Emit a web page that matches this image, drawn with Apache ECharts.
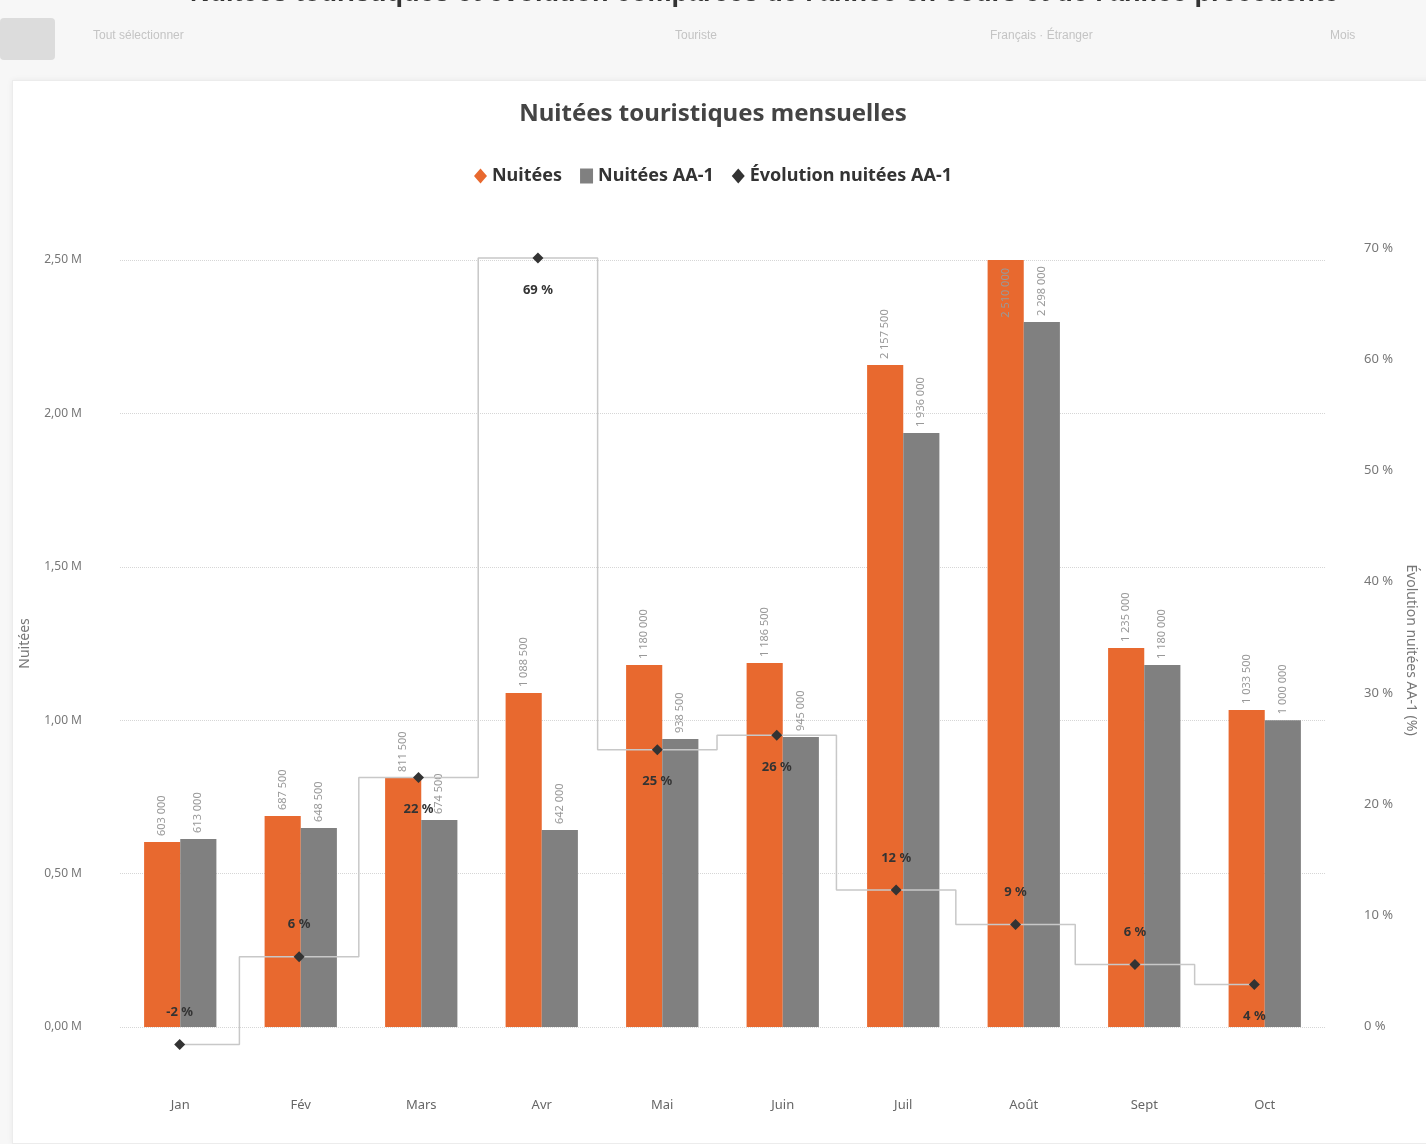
<!DOCTYPE html>
<html>
<head>
<meta charset="utf-8">
<script src="https://cdn.jsdelivr.net/npm/echarts@6/dist/echarts.min.js"></script>
<style>
html,body{margin:0;padding:0;background:#f7f7f7;width:1426px;height:1144px;overflow:hidden;font-family:"Noto Sans",sans-serif;}
#card{position:absolute;left:12px;top:80px;width:1430px;height:1062px;background:#fff;border:1px solid #ececec;box-shadow:0 0 6px rgba(0,0,0,0.06);}
#chart{position:absolute;left:0;top:0;width:1426px;height:1144px;}
</style>
</head>
<body>
<div id="card"></div>
<div id="chart"></div>
<script>
// ---- data ----
const months = ["Jan", "Fév", "Mars", "Avr", "Mai", "Juin", "Juil", "Août", "Sept", "Oct"];
const nuitees = [603000, 687500, 811500, 1088500, 1180000, 1186500, 2157500, 2510000, 1235000, 1033500];
const nuiteesAA1 = [613000, 648500, 674500, 642000, 938500, 945000, 1936000, 2298000, 1180000, 1000000];
const evolution = [-1.6, 6.3, 22.4, 69.1, 24.9, 26.2, 12.3, 9.2, 5.6, 3.8];
const leftTicks = { min: 0, max: 2500000, interval: 500000 };
const rightTicks = { min: -10, max: 70, interval: 10 };
// label placement style for the evolution line (top / bottom)
const evoLabelPos = ["top", "top", "bottom", "bottom", "bottom", "bottom", "top", "top", "top", "bottom"];

const ORANGE = "#E8692F";
const GREY = "#808080";

function fmtNum(v) {
  return String(Math.round(v)).replace(/\B(?=(\d{3})+(?!\d))/g, " ");
}
function barData(arr) {
  return arr.map(v => {
    if (v > leftTicks.max * 0.97) {
      return { value: v, label: { position: "insideTop", align: "right", distance: 8 } };
    }
    return v;
  });
}

const chart = echarts.init(document.getElementById("chart"), null, { renderer: "canvas" });
const gridL = 120, gridW = 1205, gridBottom = 117;

const option = {
  animation: false,
  textStyle: { fontFamily: "Noto Sans" },
  title: {
    text: "Nuitées touristiques mensuelles",
    left: "center",
    top: 97,
    textStyle: { fontSize: 24, fontWeight: "bold", color: "#444" }
  },
  legend: {
    top: 162,
    left: "center",
    itemGap: 18,
    itemWidth: 13,
    itemHeight: 15,
    textStyle: { fontSize: 18, fontWeight: "bold", color: "#333" },
    data: [
      { name: "Nuitées", icon: "diamond" },
      { name: "Nuitées AA-1", icon: "rect" },
      { name: "Évolution nuitées AA-1", icon: "diamond" }
    ]
  },
  graphic: [
    { type: "text", left: 190, top: -20, style: { text: "Nuitées touristiques et évolution comparées de l'année en cours et de l'année précédente", fontSize: 27, fontWeight: "bold", fill: "#333" } },
    { type: "rect", shape: { x: 0, y: 18, width: 55, height: 42, r: 4 }, style: { fill: "#dcdcdc" } },
    { type: "text", left: 93, top: 30, style: { text: "Tout sélectionner", fontSize: 12, fill: "#c4c4c4" } },
    { type: "text", left: 675, top: 30, style: { text: "Touriste", fontSize: 12, fill: "#c4c4c4" } },
    { type: "text", left: 990, top: 30, style: { text: "Français · Étranger", fontSize: 12, fill: "#c4c4c4" } },
    { type: "text", left: 1330, top: 30, style: { text: "Mois", fontSize: 12, fill: "#c4c4c4" } }
  ],
  grid: [
    { left: gridL, width: gridW, top: 260, bottom: gridBottom },
    { left: gridL, width: gridW, top: 248, bottom: 6 }
  ],
  xAxis: [
    {
      type: "category", gridIndex: 0, data: months,
      axisLine: { show: false }, axisTick: { show: false },
      axisLabel: { margin: 72, fontSize: 13, color: "#666" }
    },
    { type: "category", gridIndex: 1, data: months, show: false }
  ],
  yAxis: [
    {
      type: "value", gridIndex: 0, min: leftTicks.min, max: leftTicks.max, interval: leftTicks.interval,
      name: "Nuitées", nameLocation: "middle", nameGap: 88,
      nameTextStyle: { fontSize: 14, color: "#777" },
      axisLine: { show: false }, axisTick: { show: false },
      axisLabel: { margin: 38, fontSize: 12, color: "#777",
        formatter: v => (v / 1e6).toFixed(2).replace(".", ",") + " M" },
      splitLine: { lineStyle: { type: "dotted", color: "#d6d6d6" } }
    },
    {
      type: "value", gridIndex: 1, position: "right", min: rightTicks.min, max: rightTicks.max, interval: rightTicks.interval,
      name: "Évolution nuitées AA-1 (%)", nameLocation: "middle", nameRotate: -90, nameGap: 88,
      nameTextStyle: { fontSize: 14, color: "#777", padding: [0, 86, 0, 0] },
      axisLine: { show: false }, axisTick: { show: false },
      axisLabel: { margin: 50, fontSize: 13, color: "#777", formatter: "{value} %", showMinLabel: false },
      splitLine: { show: false }
    }
  ],
  series: [
    {
      name: "Nuitées", type: "bar", xAxisIndex: 0, yAxisIndex: 0,
      data: barData(nuitees), barWidth: "30%", barGap: "0%",
      itemStyle: { color: ORANGE },
      label: { show: true, position: "top", rotate: 90, align: "left", verticalAlign: "middle",
        distance: 6, fontSize: 11, color: "#999", formatter: p => fmtNum(p.value) }
    },
    {
      name: "Nuitées AA-1", type: "bar", xAxisIndex: 0, yAxisIndex: 0,
      data: barData(nuiteesAA1), barWidth: "30%", barGap: "0%",
      itemStyle: { color: GREY },
      label: { show: true, position: "top", rotate: 90, align: "left", verticalAlign: "middle",
        distance: 6, fontSize: 11, color: "#999", formatter: p => fmtNum(p.value) }
    },
    {
      name: "Évolution nuitées AA-1", type: "line", xAxisIndex: 1, yAxisIndex: 1,
      step: "middle", z: 5, clip: false,
      data: evolution.map((v, i) => ({ value: v, label: { position: evoLabelPos[i] } })),
      lineStyle: { color: "#c8c8c8", width: 1.5 },
      itemStyle: { color: "#333" },
      symbol: "diamond", symbolSize: 11,
      label: { show: true, distance: 20, fontSize: 13, fontWeight: "bold", color: "#333",
        formatter: p => Math.round(p.value) + " %" }
    }
  ]
};
chart.setOption(option);
</script>
</body>
</html>
